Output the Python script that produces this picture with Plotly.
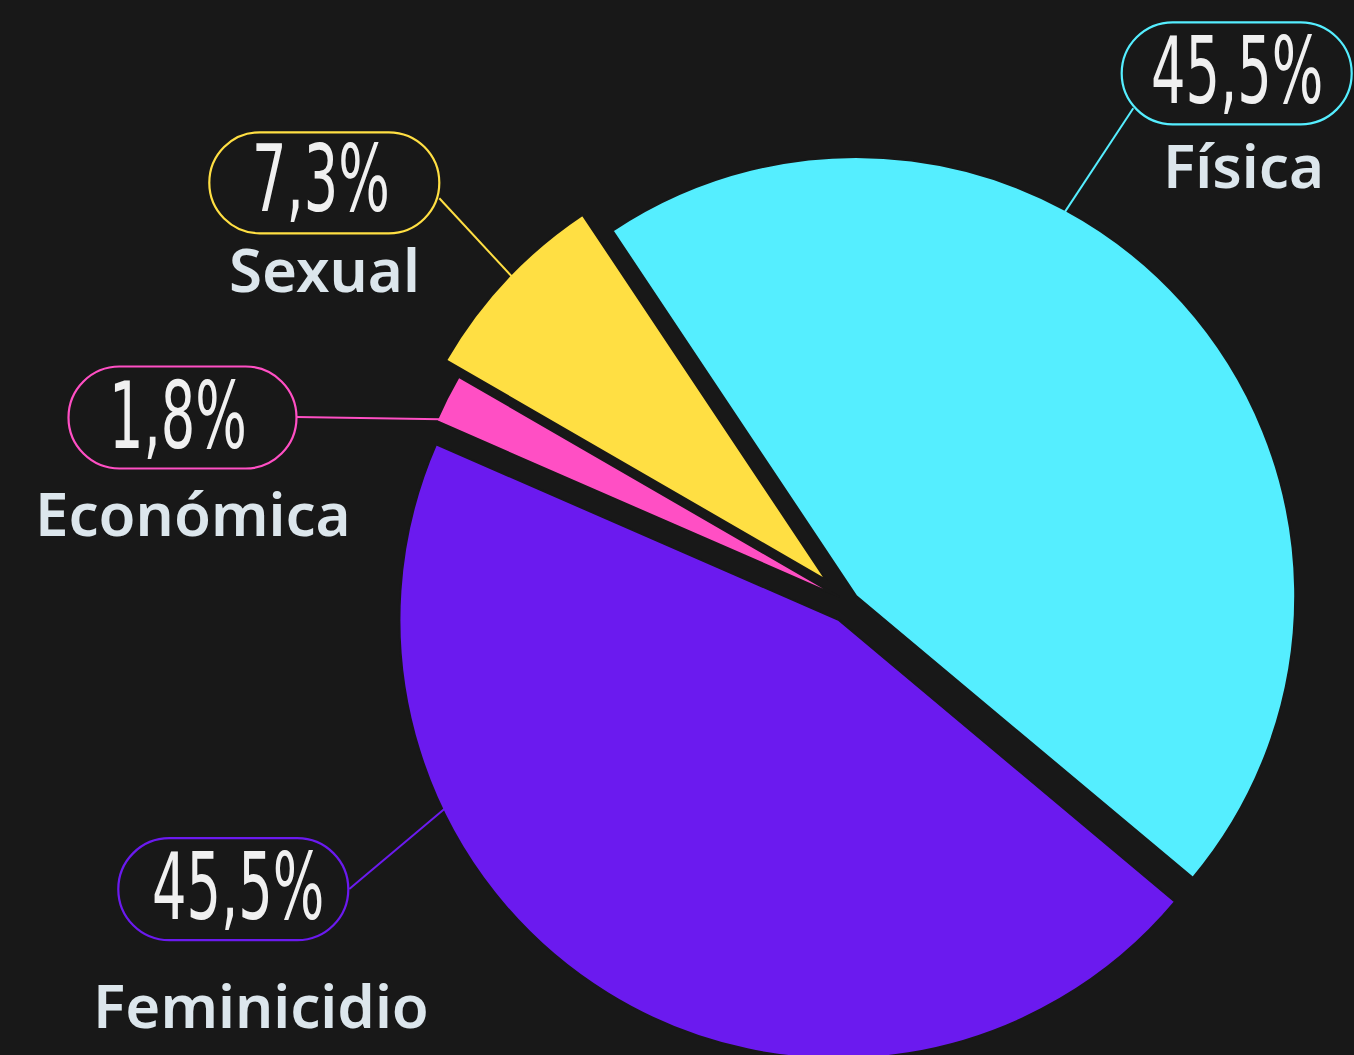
import math
import plotly.graph_objects as go

# ---------------- data ----------------
labels = ["Física", "Feminicidio", "Económica", "Sexual"]
values = [45.5, 45.5, 1.8, 7.3]
pct_text = ["45,5%", "45,5%", "1,8%", "7,3%"]

# ---------------- style ----------------
colors = ["#55EEFF", "#6B1AEF", "#FF4FC4", "#FFDF43"]
BG = "#181818"
W, H = 1354, 1080
CX, CY = 849.5, 602.0          # pie centre (px)
R_VIS = 438                     # visible radius (px)
LINE_W = 2
R0 = R_VIS + LINE_W / 2
pull_px = [9, 21, 12, 32]
ROT = -33.7

max_pull = max(pull_px) / R0
S = 2 * R0 * (1 + max_pull)
dom_x = [(CX - S / 2) / W, (CX + S / 2) / W]
dom_y = [(H - (CY + S / 2)) / H, (H - (CY - S / 2)) / H]

fig = go.Figure(go.Pie(
    labels=labels, values=values, sort=False, direction="clockwise",
    rotation=ROT, pull=[p / R0 for p in pull_px],
    marker=dict(colors=colors, line=dict(color=BG, width=LINE_W)),
    textinfo="none", hoverinfo="skip", showlegend=False,
    domain=dict(x=dom_x, y=dom_y),
))

# label styling per slice: box centre, box size, pct text centre, name centre, line start on box, anchor angle on arc
label_style = {
    "Física":      dict(box=(1236.7, 73.3), size=(230, 102), pct=(1237, 72), name=(1243, 165),
                        lstart=(1133.3, 108.3), ang=28.5),
    "Feminicidio": dict(box=(233.3, 889.2), size=(230, 102), pct=(238.3, 887), name=(260.8, 1005),
                        lstart=(349.3, 889.0), ang=244.4),
    "Económica":   dict(box=(182.5, 417.5), size=(228, 102), pct=(177.5, 416), name=(193.3, 513),
                        lstart=(296.7, 417.0), ang=-66.0),
    "Sexual":      dict(box=(324.3, 182.8), size=(230, 101), pct=(320.5, 180), name=(324.0, 269),
                        lstart=(439.3, 198.3), ang=-46.0),
}

def px2paper(x, y):
    return x / W, (H - y) / H

def pill_path(cx, cy, w, h):
    r = h / 2
    k = 0.5523 * r
    xl, xr = cx - w / 2 + r, cx + w / 2 - r
    yt, yb = cy - r, cy + r
    def P(x, y):
        px, py = px2paper(x, y)
        return f"{px:.6f},{py:.6f}"
    d = f"M {P(xl, yt)} L {P(xr, yt)} "
    d += f"C {P(xr + k, yt)} {P(xr + r, cy - k)} {P(xr + r, cy)} "
    d += f"C {P(xr + r, cy + k)} {P(xr + k, yb)} {P(xr, yb)} "
    d += f"L {P(xl, yb)} "
    d += f"C {P(xl - k, yb)} {P(xl - r, cy + k)} {P(xl - r, cy)} "
    d += f"C {P(xl - r, cy - k)} {P(xl - k, yt)} {P(xl, yt)} Z"
    return d

total = sum(values)
start = ROT
shapes, annotations = [], []
for lab, val, col, pp, txt in zip(labels, values, colors, pull_px, pct_text):
    span = val / total * 360
    mid = math.radians(start + span / 2)
    start += span
    st = label_style[lab]
    ax = CX + pp * math.sin(mid)
    ay = CY - pp * math.cos(mid)
    a = math.radians(st["ang"])
    ex = ax + (R_VIS - 2) * math.sin(a)
    ey = ay - (R_VIS - 2) * math.cos(a)
    x0, y0 = px2paper(*st["lstart"])
    x1, y1 = px2paper(ex, ey)
    shapes.append(dict(type="line", xref="paper", yref="paper", x0=x0, y0=y0, x1=x1, y1=y1,
                       line=dict(color=col, width=2), layer="above"))
    shapes.append(dict(type="path", xref="paper", yref="paper",
                       path=pill_path(*st["box"], *st["size"]),
                       line=dict(color=col, width=2.2), fillcolor=BG, layer="above"))
    px_, py_ = px2paper(*st["pct"])
    annotations.append(dict(xref="paper", yref="paper", x=px_, y=py_, xanchor="center", yanchor="middle",
                            text=txt, showarrow=False,
                            font=dict(family="DejaVu Sans, sans-serif", weight=400,
                                      size=92, color="#F0F0F0")))
    nx, ny = px2paper(*st["name"])
    annotations.append(dict(xref="paper", yref="paper", x=nx, y=ny, xanchor="center", yanchor="middle",
                            text=lab, showarrow=False,
                            font=dict(family="Noto Sans, Open Sans, sans-serif", size=60,
                                      color="#DCE6EC", weight=600)))

fig.update_layout(
    width=W, height=H, margin=dict(l=0, r=0, t=0, b=0),
    paper_bgcolor=BG, plot_bgcolor=BG,
    shapes=shapes, annotations=annotations,
)

# condensed look for the percentage labels (horizontal squeeze of the real text)
post = """
document.body.style.margin='0';
document.body.style.background='#181818';
document.documentElement.style.overflow='hidden';
document.body.style.overflow='hidden';
var gd = document.getElementById('{plot_id}');
function condense(){
  gd.querySelectorAll('text.annotation-text').forEach(function(t){
    if(t.textContent.indexOf('%') < 0) return;
    if(t.getAttribute('data-cond')) return;
    var bb = t.getBBox();
    var cx = bb.x + bb.width/2;
    var base = t.getAttribute('transform') || '';
    t.setAttribute('transform', base + ' translate(' + cx + ',0) scale(0.59,1) translate(' + (-cx) + ',0)');
    t.setAttribute('data-cond', '1');
  });
}
condense();
setTimeout(condense, 30);
if (gd.on) gd.on('plotly_afterplot', condense);
"""

fig.write_html("out.html", config={"displayModeBar": False}, post_script=post)
